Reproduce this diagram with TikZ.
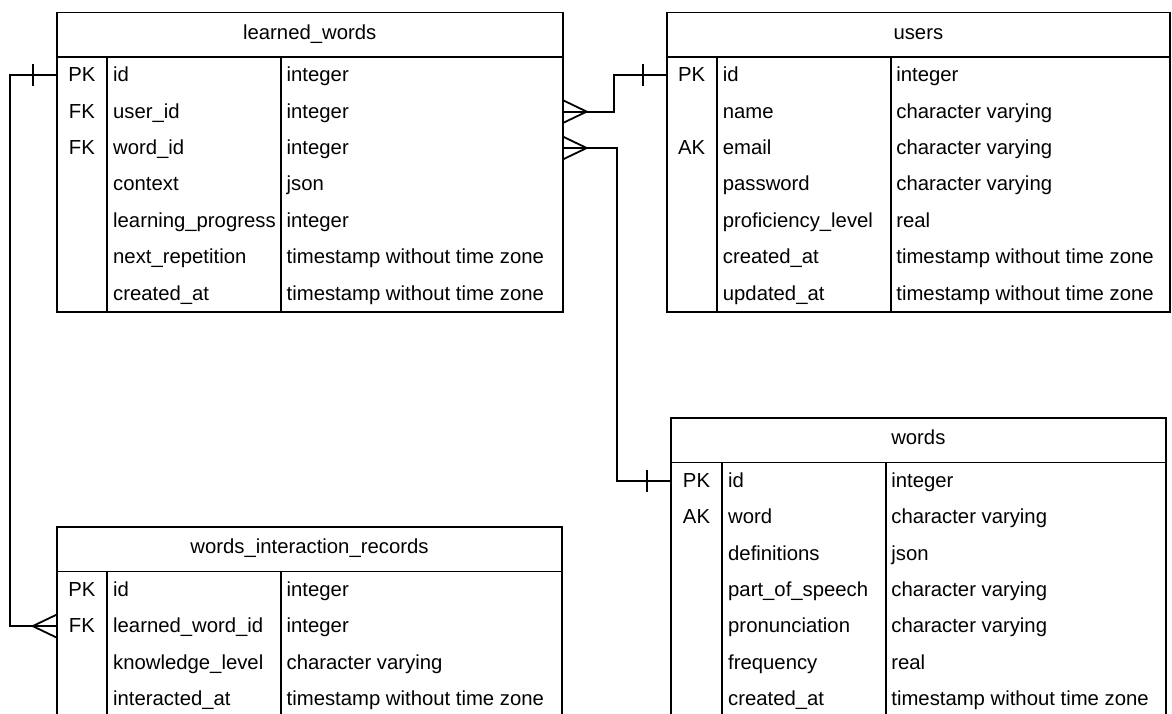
\documentclass[tikz,border=0pt]{standalone}
\usepackage{fontspec}
\setmainfont{Liberation Sans}
\newcommand\erfont{\fontsize{20.3}{24}\selectfont}

% An entity table: header box with the title, body box with key / column / type columns.
% #1 name, #2 left, #3 top, #4 width, #5 key column width, #6 name column width,
% #7 number of rows, #8 title, #9 rows as key/name/type
\newcommand\ertable[9]{%
  \node[frame, minimum width=#4pt, minimum height=44.5pt] (#1) at (#2,#3) {};
  \node[title] (#1-t) at ({#2+#4/2},{#3+26.5}) {#8};
  \node[frame, minimum width=#4pt, minimum height={#7*36.4pt}] (#1-b) at (#2,{#3+44.5}) {};
  \draw[rule] ({#2+#5},{#3+44.5}) -- ({#2+#5},{#3+44.5+#7*36.4});
  \draw[rule] ({#2+#5+#6},{#3+44.5}) -- ({#2+#5+#6},{#3+44.5+#7*36.4});
  \foreach \k/\n/\t [count=\i] in {#9} {
    \node[keycell] (#1-k\i) at ({#2+#5/2},{#3+44.5+36.4*(\i-1)+24.7}) {\k};
    \node[cell] (#1-n\i) at ({#2+#5+6},{#3+44.5+36.4*(\i-1)+24.7}) {\n};
    \node[cell] (#1-ty\i) at ({#2+#5+#6+5.5},{#3+44.5+36.4*(\i-1)+24.7}) {\t};
    \coordinate (#1-L\i) at (#2,{#3+44.5+36.4*(\i-1)+18.2});
    \coordinate (#1-R\i) at ({#2+#4},{#3+44.5+36.4*(\i-1)+18.2});
  }%
}

% relationship ends: #1 anchor coordinate, #2 side (-1 left, 1 right)
\newcommand\onemark[2]{%
  \draw[link] ([xshift=#2*24pt, yshift=11pt]#1) -- ([xshift=#2*24pt, yshift=-11pt]#1);}
\newcommand\manymark[2]{%
  \draw[link] ([yshift=11.5pt]#1) -- ([xshift=#2*24pt]#1) -- ([yshift=-11.5pt]#1);}

\begin{document}
\begin{tikzpicture}[x=1pt,y=-1pt,
  frame/.style={draw=black, line width=1.8pt, inner sep=0pt, outer sep=0pt, anchor=north west},
  rule/.style={line width=1.8pt},
  title/.style={anchor=base, inner sep=0pt, font=\erfont},
  cell/.style={anchor=base west, inner sep=0pt, font=\erfont},
  keycell/.style={anchor=base, inner sep=0pt, font=\erfont},
  link/.style={line width=1.8pt, line join=miter},
]
\useasboundingbox (0,0) rectangle (1172,713);

\ertable{lw}{56.7}{12.5}{506}{50.3}{174}{7}{learned\_words}{%
  PK/id/integer,
  FK/user\_id/integer,
  FK/word\_id/integer,
  {}/context/json,
  {}/learning\_progress/integer,
  {}/next\_repetition/timestamp without time zone,
  {}/created\_at/timestamp without time zone}

\ertable{users}{666.7}{12.5}{503.3}{50}{174}{7}{users}{%
  PK/id/integer,
  {}/name/character varying,
  AK/email/character varying,
  {}/password/character varying,
  {}/proficiency\_level/real,
  {}/created\_at/timestamp without time zone,
  {}/updated\_at/timestamp without time zone}

\ertable{words}{671}{418}{494.7}{51}{163.7}{7}{words}{%
  PK/id/integer,
  AK/word/character varying,
  {}/definitions/json,
  {}/part\_of\_speech/character varying,
  {}/pronunciation/character varying,
  {}/frequency/real,
  {}/created\_at/timestamp without time zone}

\ertable{wir}{56.7}{527}{505.6}{50.3}{174}{4}{words\_interaction\_records}{%
  PK/id/integer,
  FK/learned\_word\_id/integer,
  {}/knowledge\_level/character varying,
  {}/interacted\_at/timestamp without time zone}

% learned_words.id  --<  words_interaction_records.learned_word_id
\draw[link] (lw-L1) -- ++(-46.7,0) |- (wir-L2);
\onemark{lw-L1}{-1}
\manymark{wir-L2}{-1}

% users.id  --<  learned_words.user_id
\draw[link] (users-L1) -- ++(-52.7,0) |- (lw-R2);
\onemark{users-L1}{-1}
\manymark{lw-R2}{1}

% words.id  --<  learned_words.word_id
\draw[link] (words-L1) -- ++(-53.7,0) |- (lw-R3);
\onemark{words-L1}{-1}
\manymark{lw-R3}{1}
\end{tikzpicture}
\end{document}
